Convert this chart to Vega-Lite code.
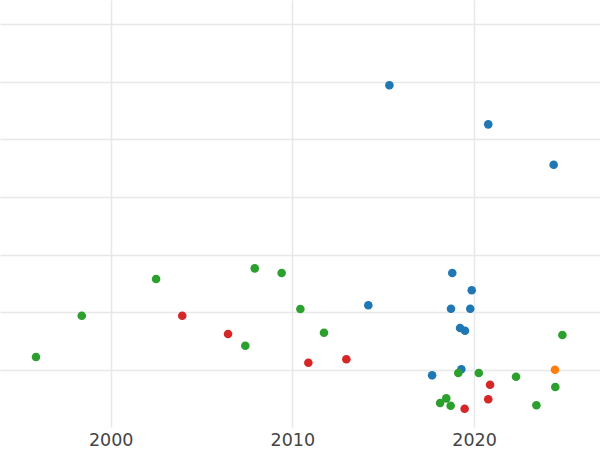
{
  "$schema": "https://vega.github.io/schema/vega-lite/v6.json",
  "width": 600,
  "height": 427,
  "autosize": {"type": "none"},
  "padding": {"left": 0, "top": 0, "right": 0, "bottom": 23},
  "background": "white",
  "config": {"view": {"stroke": null}},
  "data": {"values": [
    {"year": 2015.34, "value": 4.937, "group": "A"},
    {"year": 2020.78, "value": 4.260, "group": "A"},
    {"year": 2024.38, "value": 3.560, "group": "A"},
    {"year": 2018.80, "value": 1.682, "group": "A"},
    {"year": 2019.87, "value": 1.382, "group": "A"},
    {"year": 2014.18, "value": 1.122, "group": "A"},
    {"year": 2018.73, "value": 1.063, "group": "A"},
    {"year": 2019.79, "value": 1.063, "group": "A"},
    {"year": 2019.23, "value": 0.728, "group": "A"},
    {"year": 2019.50, "value": 0.681, "group": "A"},
    {"year": 2019.30, "value": 0.012, "group": "A"},
    {"year": 2017.69, "value": -0.092, "group": "A"},
    {"year": 2024.45, "value": 0.005, "group": "B"},
    {"year": 1995.89, "value": 0.225, "group": "C"},
    {"year": 1998.41, "value": 0.942, "group": "C"},
    {"year": 2002.50, "value": 1.578, "group": "C"},
    {"year": 2007.93, "value": 1.763, "group": "C"},
    {"year": 2009.41, "value": 1.682, "group": "C"},
    {"year": 2010.44, "value": 1.058, "group": "C"},
    {"year": 2007.41, "value": 0.421, "group": "C"},
    {"year": 2011.74, "value": 0.647, "group": "C"},
    {"year": 2024.86, "value": 0.607, "group": "C"},
    {"year": 2019.13, "value": -0.052, "group": "C"},
    {"year": 2020.26, "value": -0.052, "group": "C"},
    {"year": 2022.31, "value": -0.116, "group": "C"},
    {"year": 2024.47, "value": -0.295, "group": "C"},
    {"year": 2018.47, "value": -0.491, "group": "C"},
    {"year": 2018.13, "value": -0.572, "group": "C"},
    {"year": 2018.71, "value": -0.619, "group": "C"},
    {"year": 2023.43, "value": -0.612, "group": "C"},
    {"year": 2003.94, "value": 0.942, "group": "D"},
    {"year": 2006.46, "value": 0.624, "group": "D"},
    {"year": 2010.88, "value": 0.127, "group": "D"},
    {"year": 2012.97, "value": 0.186, "group": "D"},
    {"year": 2020.88, "value": -0.255, "group": "D"},
    {"year": 2020.78, "value": -0.508, "group": "D"},
    {"year": 2019.48, "value": -0.671, "group": "D"}
  ]},
  "mark": {"type": "circle", "size": 74, "opacity": 1},
  "encoding": {
    "x": {
      "field": "year", "type": "quantitative",
      "scale": {"domain": [1993.91, 2026.93], "nice": false, "zero": false},
      "axis": {
        "title": null, "values": [2000, 2010, 2020], "format": "d",
        "domain": false, "ticks": false, "labelPadding": 4,
        "labelFont": "DejaVu Sans", "labelFontSize": 17.5, "labelColor": "#444444",
        "gridColor": "#e8e8e8", "gridWidth": 1.5
      }
    },
    "y": {
      "field": "value", "type": "quantitative",
      "scale": {"domain": [-0.988, 6.416], "nice": false, "zero": false},
      "axis": {
        "title": null, "values": [0, 1, 2, 3, 4, 5, 6], "labels": false,
        "domain": false, "ticks": false,
        "gridColor": "#e8e8e8", "gridWidth": 1.5
      }
    },
    "color": {
      "field": "group", "type": "nominal",
      "scale": {"domain": ["A", "B", "C", "D"], "range": ["#1f77b4", "#ff7f0e", "#2ca02c", "#d62728"]},
      "legend": null
    }
  }
}
